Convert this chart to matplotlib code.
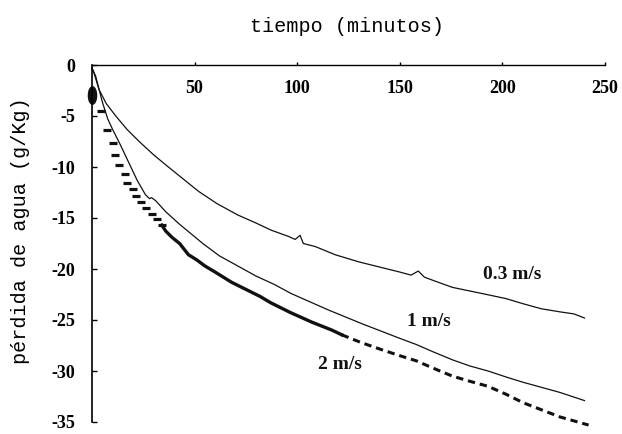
import numpy as np
import matplotlib
matplotlib.use("Agg")
import matplotlib.pyplot as plt
from matplotlib.path import Path
from matplotlib.transforms import Affine2D

plt.rcParams["axes.unicode_minus"] = False

# curva 0.3 m/s
t_03 = [0, 1, 3.4, 7, 11.6, 17, 23, 30, 36, 44, 52, 61, 71, 80, 87.4, 95.7, 99,
        101.4, 103, 108.8, 118.5, 130, 140, 150, 155.5, 159, 162, 166, 175.6,
        190, 201.7, 210, 219, 228, 234.8, 240]
y_03 = [-0.3, -0.8, -2.4, -3.8, -5.0, -6.3, -7.5, -8.8, -9.8, -11.1, -12.4, -13.6,
        -14.7, -15.5, -16.2, -16.8, -17.1, -16.7, -17.5, -17.8, -18.6, -19.3, -19.8,
        -20.3, -20.6, -20.2, -20.8, -21.1, -21.8, -22.4, -22.9, -23.4, -23.9, -24.2,
        -24.4, -24.8]

# curva 1 m/s
t_1 = [0, 1.8, 5, 7.7, 10, 14, 18, 22, 26, 28, 29, 31, 36, 42.6, 54, 62, 71, 80,
       88.7, 97, 106, 115, 123.5, 132, 141, 150, 158, 166, 175.6, 184, 193, 202,
       210, 219, 228, 234, 240]
y_1 = [-0.3, -1.1, -3.6, -5.3, -6.3, -7.9, -9.6, -11.3, -12.7, -13.1, -13.0, -13.3,
       -14.4, -15.6, -17.5, -18.7, -19.7, -20.7, -21.5, -22.4, -23.2, -24.0, -24.7,
       -25.4, -26.1, -26.8, -27.4, -28.1, -28.9, -29.5, -30.0, -30.6, -31.1, -31.6,
       -32.1, -32.5, -32.9]

# curva 2 m/s (primeros puntos, tramo denso, tramo final)
t_2a = [4.5, 7.4, 10.1, 11.3, 13.4, 15.9, 17.3, 19.8, 21.6, 24, 26.4, 29, 31.5, 34]
y_2a = [-4.5, -6.4, -7.6, -8.8, -9.8, -10.7, -11.6, -12.2, -12.8, -13.4, -14.0,
        -14.6, -15.1, -15.7]
t_2b = [34, 36, 39, 42.7, 47, 51, 55, 60, 64, 68, 73, 78, 82, 87, 92, 97, 102.6,
        107, 112, 117, 121.7]
y_2b = [-15.7, -16.3, -16.9, -17.5, -18.6, -19.1, -19.7, -20.3, -20.8, -21.3, -21.8,
        -22.3, -22.7, -23.3, -23.8, -24.3, -24.8, -25.2, -25.6, -26.0, -26.45]
t_2c = [121.7, 131, 141, 150, 158, 166, 175.6, 184, 193, 202, 210, 219, 228, 235, 242]
y_2c = [-26.45, -27.2, -27.9, -28.5, -29.0, -29.7, -30.5, -31.0, -31.5, -32.3,
        -33.1, -33.8, -34.5, -34.9, -35.3]

etiquetas = ["0.3 m/s", "1 m/s", "2 m/s"]
pos_etiquetas = [(205, -20.5), (164, -25.1), (121, -29.4)]

xticks = [50, 100, 150, 200, 250]
yticks = [0, -5, -10, -15, -20, -25, -30, -35]

serif = "Liberation Serif"
mono = "Liberation Mono"
color = "#111111"

fig = plt.figure(figsize=(6.22, 4.34), dpi=100)
ax = fig.add_axes([92 / 622, 1 - 422 / 434, (605 - 92) / 622, (422 - 65) / 434])

ax.plot(t_03, y_03, color=color, lw=0.9, clip_on=False)
ax.plot(t_1, y_1, color=color, lw=0.9, clip_on=False)
ax.plot(t_2a, y_2a, linestyle="none", marker="_", markersize=5.5,
        markeredgewidth=2.3, color=color, clip_on=False)
ax.plot(t_2b, y_2b, color=color, lw=2.4, clip_on=False)
ax.plot(t_2c, y_2c, color=color, lw=2.2, dashes=(2.4, 1.6), clip_on=False)

# punto negro inicial (elipse)
elipse = Path.unit_circle().transformed(Affine2D().scale(0.47, 1.0))
ax.plot([0], [-2.9], linestyle="none", marker=elipse, markersize=12.5,
        color=color, clip_on=False)

for txt, (xp, yp) in zip(etiquetas, pos_etiquetas):
    ax.text(xp, yp, txt, ha="center", va="center", fontsize=14,
            fontweight="bold", family=serif, color=color)

ax.set_xlim(0, 250)
ax.set_ylim(-35, 0)

ax.spines["right"].set_visible(False)
ax.spines["bottom"].set_visible(False)
ax.spines["left"].set_linewidth(1.2)
ax.spines["top"].set_linewidth(1.0)

ax.set_xticks(xticks)
ax.set_xticklabels([str(v) for v in xticks])
ax.set_yticks(yticks)
ax.set_yticklabels([str(v) for v in yticks])

ax.tick_params(axis="x", top=True, bottom=False, labeltop=True, labelbottom=False,
               direction="out", length=2.5, width=1, pad=-25.5)
ax.tick_params(axis="y", direction="in", length=3.5, width=1, pad=12)
for lab in ax.get_xticklabels() + ax.get_yticklabels():
    lab.set_fontfamily(serif)
    lab.set_fontweight("bold")
    lab.set_fontsize(13)

fig.text(347 / 622, 1 - 27 / 434, "tiempo (minutos)", ha="center", va="center",
         fontsize=14.5, family=mono)
fig.text(21 / 622, 1 - 231 / 434, "pérdida de agua (g/Kg)", ha="center",
         va="center", rotation=90, fontsize=14.5, family=mono)

fig.savefig("out.png", dpi=100)
